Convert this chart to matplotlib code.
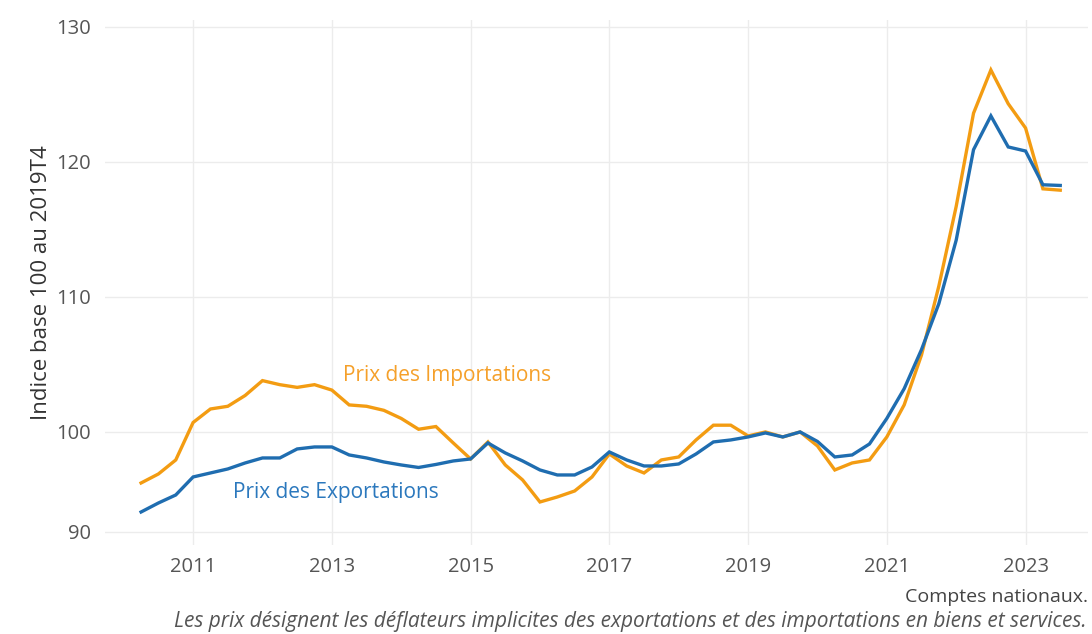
import numpy as np
import pandas as pd
import matplotlib
matplotlib.use("Agg")
import matplotlib.pyplot as plt

# ---- data ----
start_quarter = "2010Q2"
exports = [92.0, 92.9, 93.7, 95.5, 95.9, 96.3, 96.9, 97.4, 97.4, 98.3,
           98.5, 98.5, 97.7, 97.4, 97.0, 96.7, 96.45, 96.75, 97.1, 97.3,
           98.9, 97.9, 97.1, 96.2, 95.7, 95.7, 96.5, 98.0, 97.2, 96.6,
           96.6, 96.8, 97.8, 99.0, 99.2, 99.5, 99.9, 99.5, 100.0, 99.05,
           97.5, 97.7, 98.8, 101.0, 103.2, 106.1, 109.5, 114.2, 120.9, 123.4,
           121.1, 120.8, 118.3, 118.25]
imports = [94.9, 95.8, 97.2, 100.7, 101.7, 101.9, 102.7, 103.8, 103.5, 103.3,
           103.5, 103.1, 102.0, 101.9, 101.6, 101.0, 100.2, 100.4, 98.9, 97.3,
           99.0, 96.7, 95.2, 93.0, 93.5, 94.1, 95.5, 97.8, 96.6, 95.9,
           97.2, 97.5, 99.2, 100.5, 100.5, 99.6, 100.0, 99.5, 100.0, 98.6,
           96.2, 96.9, 97.2, 99.5, 102.0, 105.7, 110.8, 116.7, 123.6, 126.8,
           124.3, 122.5, 118.0, 117.9]
year_ticks = [2011, 2013, 2015, 2017, 2019, 2021, 2023]
y_ticks = [90, 100, 110, 120, 130]
label_exports = "Prix des Exportations"
label_imports = "Prix des Importations"
y_label = "Indice base 100 au 2019T4"
source_text = "Comptes nationaux."
note_text = ("Les prix désignent les déflateurs implicites des exportations "
             "et des importations en biens et services.")

periods = pd.period_range(start_quarter, periods=len(exports), freq="Q")
x = np.array([p.year + (p.quarter - 1) / 4 for p in periods])

# ---- style ----
plt.rcParams["font.family"] = ["Open Sans", "DejaVu Sans"]
c_exp = "#1f6db0"
c_imp = "#f39c12"
c_exp_txt = "#2b78bd"
c_imp_txt = "#f5a02a"
grid_c = "#ececec"

fig = plt.figure(figsize=(10.92, 6.34), dpi=100)
ax = fig.add_axes([105 / 1092, 1 - 545 / 634, (1088 - 105) / 1092, (545 - 20) / 634])

# piecewise y scale (section below 100 is compressed as in the reference)
k = 100 / 135


def fwd(v):
    v = np.asarray(v, dtype=float)
    return np.where(v >= 100, v, 100 + (v - 100) * k)


def inv(u):
    u = np.asarray(u, dtype=float)
    return np.where(u >= 100, u, 100 + (u - 100) / k)


ax.set_yscale("function", functions=(fwd, inv))

ax.plot(x, imports, color=c_imp, lw=2.4, solid_joinstyle="miter", zorder=3)
ax.plot(x, exports, color=c_exp, lw=2.4, solid_joinstyle="miter", zorder=4)

ax.set_xlim(2009.73, 2023.9)
ax.set_ylim(88.7, 130.5)
ax.set_xticks(year_ticks)
ax.set_xticklabels([str(y) for y in year_ticks])
ax.set_yticks(y_ticks)
ax.set_yticklabels([str(v) for v in y_ticks])
ax.tick_params(length=0, labelsize=14.5, labelcolor="#555555")
ax.tick_params(axis="x", pad=8.5)
ax.tick_params(axis="y", pad=10)
ax.grid(True, color=grid_c, lw=1)
ax.set_axisbelow(True)
for s in ax.spines.values():
    s.set_visible(False)

ax.set_ylabel(y_label, fontsize=16, color="#333333", labelpad=3)

ax.text(2013.16, 104.2, label_imports, color=c_imp_txt, fontsize=15,
        ha="left", va="center")
ax.text(2011.58, 93.9, label_exports, color=c_exp_txt, fontsize=15,
        ha="left", va="center")

fig.text(1088 / 1092, 1 - 597 / 634, source_text, ha="right", va="center",
         fontsize=14, color="#444444")
fig.text(1087 / 1092, 1 - 621 / 634, note_text, ha="right", va="center",
         fontsize=15, color="#555555", style="italic")

fig.savefig("out.png", dpi=100, facecolor="white")
